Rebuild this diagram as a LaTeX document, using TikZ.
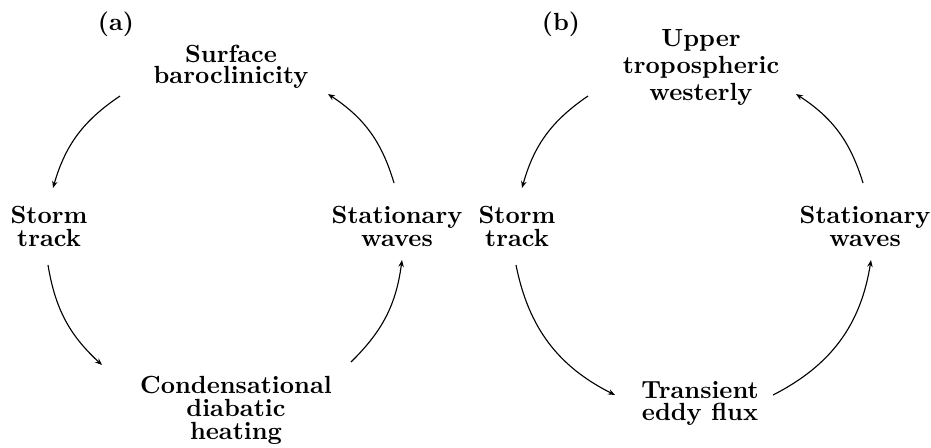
\documentclass[tikz,border=0pt]{standalone}
\usetikzlibrary{arrows.meta}
\begin{document}
\begin{tikzpicture}[x=0.403pt,y=0.403pt,
  lbl/.style={anchor=base,align=center,inner sep=0pt,font=\bfseries\fontsize{10}{8.87}\selectfont},
  arr/.style={line width=0.45pt,-{Stealth[length=2.8pt,width=2.2pt]}}]
\useasboundingbox (0,-447) rectangle (931,0);
% panel (a)
\node[lbl] (pa) at (116,-30) {(a)};
\node[lbl,font=\bfseries\fontsize{10}{8.46}\selectfont] (surf) at (231,-83) {Surface\\baroclinicity};
\node[lbl] (stormA) at (49,-246) {Storm\\track};
\node[lbl] (statA) at (397,-246) {Stationary\\waves};
\node[lbl,font=\bfseries\fontsize{10}{9.07}\selectfont] (cond) at (236,-439) {Condensational\\diabatic\\heating};
\coordinate (a1s) at (120,-96);  \coordinate (a1e) at (53,-188);
\coordinate (a2s) at (48,-265);  \coordinate (a2e) at (102,-365);
\coordinate (a3s) at (351,-362); \coordinate (a3e) at (402,-260);
\coordinate (a4s) at (394,-183); \coordinate (a4e) at (328,-94);
\draw[arr] (a1s) to[bend right=20] (a1e);
\draw[arr] (a2s) to[bend right=19] (a2e);
\draw[arr] (a3s) to[bend right=19] (a3e);
\draw[arr] (a4s) to[bend right=20] (a4e);
% panel (b)
\node[lbl] (pb) at (561,-30) {(b)};
\node[lbl,font=\bfseries\fontsize{10}{10.7}\selectfont] (upper) at (701,-100) {Upper\\tropospheric\\westerly};
\node[lbl] (stormB) at (517,-246) {Storm\\track};
\node[lbl] (statB) at (865,-246) {Stationary\\waves};
\node[lbl] (trans) at (700,-420) {Transient\\eddy flux};
\coordinate (b1s) at (588,-96);  \coordinate (b1e) at (522,-188);
\coordinate (b2s) at (516,-265); \coordinate (b2e) at (615,-395);
\coordinate (b3s) at (773,-395); \coordinate (b3e) at (871,-260);
\coordinate (b4s) at (863,-183); \coordinate (b4e) at (796,-94);
\draw[arr] (b1s) to[bend right=20] (b1e);
\draw[arr] (b2s) to[bend right=26] (b2e);
\draw[arr] (b3s) to[bend right=27] (b3e);
\draw[arr] (b4s) to[bend right=20] (b4e);
\end{tikzpicture}
\end{document}
